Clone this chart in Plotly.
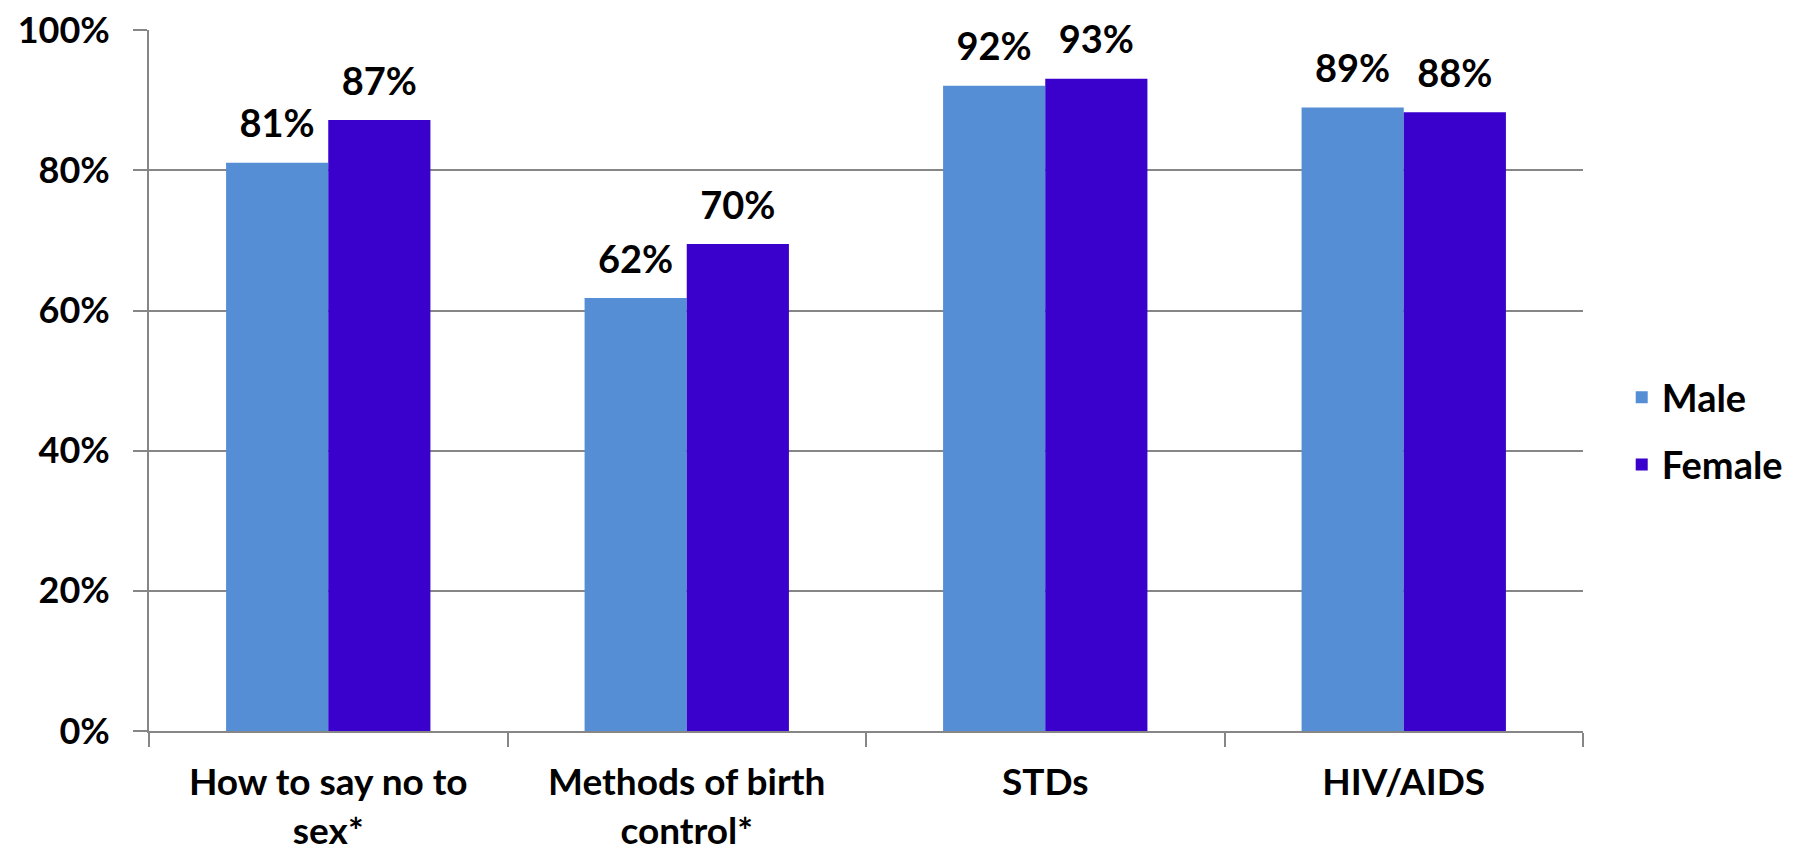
import plotly.graph_objects as go

# ==============================
# DATOS
# ==============================

categorias = ["How to say no to<br>sex*", "Methods of birth<br>control*", "STDs", "HIV/AIDS"]

male_vals = [81.1, 61.8, 92.1, 89.0]
female_vals = [87.2, 69.5, 93.1, 88.3]

male_labels = ["81%", "62%", "92%", "89%"]
female_labels = ["87%", "70%", "93%", "88%"]

y_ticks = [0, 20, 40, 60, 80, 100]
y_ticktext = ["0%", "20%", "40%", "60%", "80%", "100%"]

# ==============================
# ESTILO
# ==============================

FUENTE = "Lato"
GRIS = "#868686"
COLORES = {"Male": "#558ED5", "Female": "#3A00CC"}


def grafico():
    fig = go.Figure()

    series = [("Male", male_vals, male_labels), ("Female", female_vals, female_labels)]

    for nombre, vals, labels in series:
        fig.add_trace(go.Bar(
            x=categorias, y=vals, name=nombre,
            marker=dict(color=COLORES[nombre], line=dict(width=0)),
            offsetgroup=nombre, legendgroup=nombre,
        ))

    # etiquetas encima de las barras (separadas un poco del borde)
    for nombre, vals, labels in series:
        fig.add_trace(go.Scatter(
            x=categorias, y=vals, mode="markers+text",
            marker=dict(size=24, opacity=0),
            text=labels, textposition="top center",
            textfont=dict(family=FUENTE, size=38, color="black", weight="bold"),
            offsetgroup=nombre, showlegend=False, hoverinfo="skip",
            cliponaxis=False,
        ))

    # la pagina tiene 8px de margen en el body
    fig.update_layout(
        width=1788, height=847,
        margin=dict(l=141, r=213, t=22, b=124, autoexpand=False),
        paper_bgcolor="white", plot_bgcolor="white",
        barmode="group", bargap=0.43, bargroupgap=0,
        scattermode="group", scattergap=0.43,
        font=dict(family=FUENTE, size=38, color="black", weight="bold"),
        legend=dict(
            x=1.027, xanchor="left", y=0.428, yanchor="middle",
            font=dict(family=FUENTE, size=38, color="black", weight="bold"),
            tracegroupgap=15, bgcolor="rgba(0,0,0,0)",
        ),
        showlegend=True,
    )

    fig.update_xaxes(
        automargin=False,
        showgrid=False, showline=True, linecolor=GRIS, linewidth=2,
        ticks="outside", tickson="boundaries", ticklen=14, tickwidth=2, tickcolor=GRIS,
        tickfont=dict(family=FUENTE, size=37, color="black", weight="bold"),
        ticklabelstandoff=18,
    )
    fig.update_yaxes(
        automargin=False, ticklabeloverflow="allow",
        range=[0, 100.05], tickvals=y_ticks, ticktext=y_ticktext,
        showgrid=True, gridcolor=GRIS, gridwidth=2,
        showline=True, linecolor=GRIS, linewidth=2, zeroline=False,
        ticks="outside", ticklen=14, tickwidth=2, tickcolor=GRIS,
        tickfont=dict(family=FUENTE, size=36, color="black", weight="bold"),
        ticklabelstandoff=16,
    )

    fig.write_html("out.html")


if __name__ == "__main__":
    grafico()
